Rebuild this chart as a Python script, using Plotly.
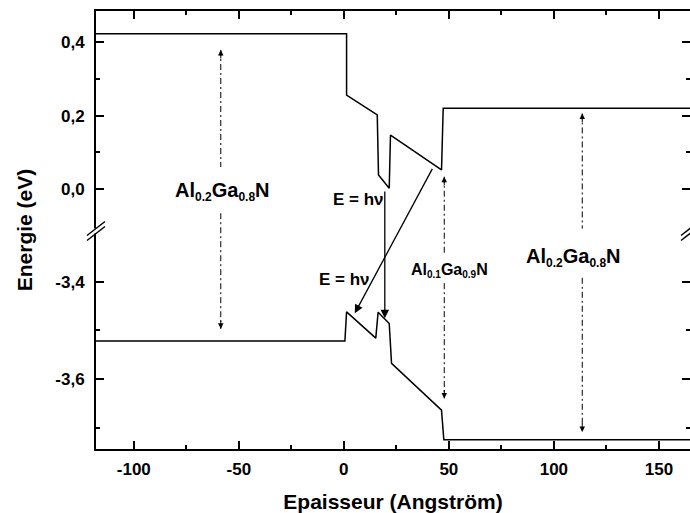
import numpy as np
import plotly.graph_objects as go

# ---- band profiles (energy in eV vs thickness in Angstrom) ----
cb_x = [-118, 1.3, 1.3, 15.9, 16.5, 21.6, 22.2, 46.5, 47.3, 165]
cb_e = [0.423, 0.423, 0.256, 0.202, 0.038, 0.002, 0.147, 0.052, 0.22, 0.22]

vb_x = [-118, 0.5, 1.3, 15.2, 16.3, 21.6, 22.7, 46.5, 47.6, 165]
vb_e = [-3.522, -3.522, -3.462, -3.516, -3.463, -3.486, -3.568, -3.664, -3.725, -3.725]

# ---- band-gap arrows (dash-dot, double headed) ----
gap_x = [-58.6, 47.8, 113.5]
gap_top_tip = [0.379, 0.0335, 0.206]
gap_top_end = [0.06, -3.341, -0.108]
gap_bot_start = [-0.066, -3.403, -3.392]
gap_bot_tip = [-3.497, -3.640, -3.709]

# ---- optical transitions (solid arrows): tail -> head ----
tr_x0 = [19.5, 42.5]
tr_e0 = [-0.003, 0.059]
tr_x1 = [19.5, 5.2]
tr_e1 = [-3.475, -3.465]

# ---- tick labels ----
x_major = [-100, -50, 0, 50, 100, 150]
x_minor = [-75, -25, 25, 75, 125]
y_major = [-3.6, -3.4, 0.0, 0.2, 0.4]
y_major_text = ["-3,6", "-3,4", "0,0", "0,2", "0,4"]
y_minor = [-3.7, -3.5, 0.1, 0.3]

# ---- broken energy axis: two linear pieces stacked on one axis ----
TOP_RANGE = (-0.1145, 0.4853)
BOT_RANGE = (-3.744, -3.2958)
BREAK = 218 / 438


def fold(e):
    e = np.asarray(e, dtype=float)
    top = BREAK + (1 - BREAK) * (e - TOP_RANGE[0]) / (TOP_RANGE[1] - TOP_RANGE[0])
    bot = BREAK * (e - BOT_RANGE[0]) / (BOT_RANGE[1] - BOT_RANGE[0])
    return np.where(e > -1.5, top, bot)


FONT = "Liberation Sans, Arial, sans-serif"
BLACK = "#000000"

fig = go.Figure()

fig.add_trace(go.Scatter(x=cb_x, y=fold(cb_e), mode="lines",
                         line=dict(color=BLACK, width=1.5), showlegend=False,
                         hoverinfo="skip"))
fig.add_trace(go.Scatter(x=vb_x, y=fold(vb_e), mode="lines",
                         line=dict(color=BLACK, width=1.5), showlegend=False,
                         hoverinfo="skip"))

annotations = []
for gx, t_tip, t_end, b_start, b_tip in zip(gap_x, gap_top_tip, gap_top_end,
                                            gap_bot_start, gap_bot_tip):
    ys = list(fold([t_tip, t_end])) + [None] + list(fold([b_start, b_tip]))
    fig.add_trace(go.Scatter(x=[gx, gx, None, gx, gx], y=ys, mode="lines",
                             line=dict(color=BLACK, width=1, dash="6px,3px,2px,3px"),
                             showlegend=False, hoverinfo="skip"))
    for tip, off in ((t_tip, 10), (b_tip, -10)):
        annotations.append(dict(x=gx, y=float(fold(tip)), xref="x", yref="y",
                                ax=0, ay=off, axref="pixel", ayref="pixel",
                                text="", showarrow=True, arrowhead=2,
                                arrowsize=1.1, arrowwidth=1, arrowcolor=BLACK,
                                standoff=0, startstandoff=0))

for x0, e0, x1, e1 in zip(tr_x0, tr_e0, tr_x1, tr_e1):
    annotations.append(dict(x=x1, y=float(fold(e1)), ax=x0, ay=float(fold(e0)),
                            xref="x", yref="y", axref="x", ayref="y",
                            text="", showarrow=True, arrowhead=2, arrowsize=1.3,
                            arrowwidth=1.3, arrowcolor=BLACK, standoff=0))


def label(x, e, text, size):
    annotations.append(dict(x=x, y=float(fold(e)), xref="x", yref="y",
                            text=text, showarrow=False, xanchor="center",
                            yanchor="middle",
                            font=dict(family=FONT, size=size, color=BLACK,
                                      weight="bold")))


def alloy(al, ga, sub):
    return (f"Al<sub><span style='font-size:{sub}px'>{al}</span></sub>"
            f"Ga<sub><span style='font-size:{sub}px'>{ga}</span></sub>N")


label(-57.6, -0.008, alloy("0.2", "0.8", 12), 20)
label(109.5, -3.3513, alloy("0.2", "0.8", 12), 20)
label(50.2, -3.376, alloy("0.1", "0.9", 10), 16)
label(7.1, -0.029, "E = hν", 17)
label(0.1, -3.3945, "E = hν", 17)

# empty trace so the right-hand mirror axis is drawn
fig.add_trace(go.Scatter(x=[None], y=[None], yaxis="y2", showlegend=False,
                         hoverinfo="skip"))

# axis-break marks on both vertical spines
shapes = []
for xa in (0, 1):
    shapes.append(dict(type="rect", xref="paper", yref="paper",
                       xsizemode="pixel", ysizemode="pixel",
                       xanchor=xa, yanchor=BREAK, x0=-3, x1=3, y0=-2.5, y1=2.5,
                       fillcolor="white", line=dict(width=0), layer="above"))
    for dy in (-2.5, 2.5):
        shapes.append(dict(type="line", xref="paper", yref="paper",
                           xsizemode="pixel", ysizemode="pixel",
                           xanchor=xa, yanchor=BREAK,
                           x0=-9, x1=9, y0=-7 + dy, y1=7 + dy,
                           line=dict(color=BLACK, width=1.5), layer="above"))

tickfont = dict(family=FONT, size=17, color=BLACK, weight="bold")
titlefont = dict(family=FONT, size=21, color=BLACK, weight="bold")

fig.update_layout(
    width=690, height=513, autosize=False,
    margin=dict(l=96, r=0, t=11, b=64, pad=0),
    paper_bgcolor="white", plot_bgcolor="white",
    showlegend=False,
    annotations=annotations,
    shapes=shapes,
    xaxis=dict(range=[-118.0, 164.8], showgrid=False, zeroline=False,
               showline=True, linewidth=2, linecolor=BLACK, mirror="ticks",
               ticks="inside", ticklen=8, tickwidth=1.5, tickcolor=BLACK,
               tickmode="array", tickvals=x_major,
               ticktext=[str(v) for v in x_major],
               minor=dict(tickmode="array", tickvals=x_minor, ticks="inside",
                          ticklen=4, tickwidth=1.5, tickcolor=BLACK),
               tickfont=tickfont, ticklabelstandoff=4,
               title=dict(text="Epaisseur (Angström)", font=titlefont,
                          standoff=17)),
    yaxis=dict(range=[0, 1], showgrid=False, zeroline=False,
               showline=True, linewidth=2, linecolor=BLACK, mirror=False,
               ticks="inside", ticklen=8, tickwidth=1.5, tickcolor=BLACK,
               tickmode="array", tickvals=list(fold(y_major)),
               ticktext=y_major_text,
               minor=dict(tickmode="array", tickvals=list(fold(y_minor)),
                          ticks="inside", ticklen=4, tickwidth=1.5,
                          tickcolor=BLACK),
               tickfont=tickfont, ticklabelstandoff=6,
               title=dict(text="Energie (eV)", font=titlefont, standoff=17)),
    yaxis2=dict(range=[0, 1], overlaying="y", side="right", anchor="x",
                showgrid=False, zeroline=False, showline=False,
                ticks="inside", ticklen=8, tickwidth=1.5, tickcolor=BLACK,
                tickmode="array", tickvals=list(fold(y_major)),
                showticklabels=False,
                minor=dict(tickmode="array", tickvals=list(fold(y_minor)),
                           ticks="inside", ticklen=4, tickwidth=1.5,
                           tickcolor=BLACK)),
)

fig.write_html("out.html")
